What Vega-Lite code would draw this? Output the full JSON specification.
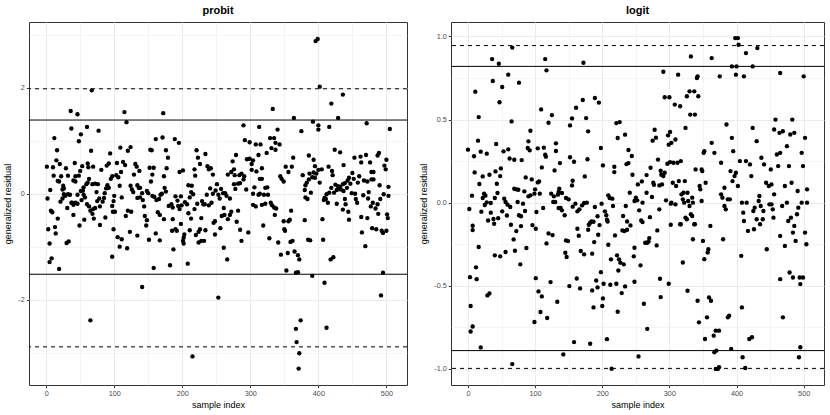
{
"$schema":"https://vega.github.io/schema/vega-lite/v6.json",
"padding":{"left":3,"top":4,"right":4,"bottom":2},
"config":{
 "font":"Liberation Sans",
 "view":{"stroke":"#333333","strokeWidth":1},
 "axis":{"labelFont":"Liberation Sans","labelFontSize":7.3,"labelColor":"#4D4D4D","titleFont":"Liberation Sans","titleFontSize":9,"titleFontWeight":"normal","titleColor":"#000000","tickColor":"#333333","tickSize":2.7,"labelPadding":2,"domain":false,"gridColor":"#EBEBEB"},
 "title":{"font":"Liberation Sans","fontSize":11,"fontWeight":"bold","color":"#000000","anchor":"middle","frame":"group","offset":6},
 "concat":{"spacing":11}
},
"datasets":{
"probit":[
{"i":1,"r":0.51},{"i":10,"r":0.5},{"i":15,"r":0.63},{"i":20,"r":0.56},{"i":29,"r":0.48},{"i":42,"r":0.58},{"i":53,"r":0.52},{"i":61,"r":0.57},{"i":62,"r":0.5},{"i":69,"r":0.51},{"i":81,"r":0.45},{"i":89,"r":0.53},{"i":92,"r":0.57},{"i":11,"r":0.34},{"i":22,"r":0.33},{"i":32,"r":0.34},{"i":17,"r":0.24},{"i":19,"r":0.23},{"i":25,"r":0.15},{"i":26,"r":0.1},{"i":24,"r":0.08},{"i":6,"r":0.07},{"i":2,"r":-0.09},{"i":7,"r":-0.32},{"i":9,"r":-0.35},{"i":17,"r":-0.47},{"i":3,"r":-0.67},{"i":13,"r":-0.63},{"i":14,"r":-0.75},{"i":5,"r":-0.94},{"i":5,"r":-1.29},{"i":8,"r":-1.22},{"i":19,"r":-1.42},{"i":30,"r":-0.93},{"i":33,"r":-0.9},{"i":40,"r":0.25},{"i":43,"r":0.33},{"i":48,"r":0.34},{"i":50,"r":0.43},{"i":26,"r":-0.01},{"i":28,"r":-0.04},{"i":32,"r":-0.01},{"i":35,"r":-0.02},{"i":21,"r":-0.15},{"i":24,"r":-0.09},{"i":38,"r":-0.17},{"i":40,"r":-0.21},{"i":43,"r":-0.17},{"i":46,"r":-0.19},{"i":40,"r":-0.4},{"i":31,"r":-0.27},{"i":49,"r":-0.6},{"i":56,"r":-0.49},{"i":52,"r":-0.12},{"i":55,"r":-0.02},{"i":57,"r":-0.07},{"i":60,"r":-0.2},{"i":63,"r":-0.24},{"i":65,"r":-0.32},{"i":68,"r":-0.38},{"i":69,"r":-0.29},{"i":72,"r":-0.27},{"i":75,"r":-0.14},{"i":78,"r":-0.09},{"i":79,"r":-0.24},{"i":83,"r":-0.15},{"i":85,"r":-0.08},{"i":86,"r":0.01},{"i":88,"r":0.1},{"i":90,"r":0.16},{"i":92,"r":0.11},{"i":95,"r":0.28},{"i":97,"r":-0.23},{"i":98,"r":-0.34},{"i":65,"r":-2.39},{"i":68,"r":0.18},{"i":72,"r":0.19},{"i":76,"r":0.18},{"i":74,"r":0.03},{"i":79,"r":-0.59},{"i":87,"r":-0.45},{"i":70,"r":-0.47},{"i":55,"r":0.12},{"i":59,"r":0.18},{"i":61,"r":0.21},{"i":63,"r":0.28},{"i":54,"r":0.06},{"i":51,"r":0.05},{"i":43,"r":0.23},{"i":37,"r":-0.17},{"i":46,"r":-0.02},{"i":100,"r":-0.04},
{"i":67,"r":1.95},{"i":36,"r":1.56},{"i":46,"r":1.5},{"i":37,"r":1.23},{"i":60,"r":1.26},{"i":77,"r":1.19},{"i":51,"r":1.12},{"i":48,"r":0.99},{"i":12,"r":1.05},{"i":16,"r":0.82},{"i":66,"r":0.81},{"i":94,"r":0.76},
{"i":115,"r":1.54},{"i":118,"r":1.35},{"i":172,"r":1.52},{"i":161,"r":1.03},{"i":171,"r":1.06},{"i":189,"r":1.03},{"i":195,"r":0.96},{"i":109,"r":0.87},{"i":120,"r":0.81},{"i":124,"r":0.88},{"i":153,"r":0.83},{"i":155,"r":0.82},{"i":176,"r":0.82},{"i":179,"r":0.68},{"i":104,"r":0.58},{"i":113,"r":0.6},{"i":116,"r":0.54},{"i":131,"r":0.56},{"i":133,"r":0.51},{"i":137,"r":0.43},{"i":152,"r":0.49},{"i":158,"r":0.49},{"i":177,"r":0.48},{"i":97,"r":0.33},{"i":103,"r":0.35},{"i":106,"r":0.31},{"i":110,"r":0.41},{"i":129,"r":0.36},{"i":156,"r":0.36},{"i":173,"r":0.33},{"i":196,"r":0.41},{"i":201,"r":0.44},{"i":108,"r":0.15},{"i":124,"r":0.15},{"i":126,"r":0.08},{"i":128,"r":0.03},{"i":134,"r":0.16},{"i":136,"r":0.11},{"i":138,"r":0.11},{"i":141,"r":0.01},{"i":148,"r":0.05},{"i":150,"r":0.01},{"i":154,"r":0.23},{"i":156,"r":-0.04},{"i":159,"r":-0.06},{"i":162,"r":-0.12},{"i":166,"r":-0.1},{"i":168,"r":-0.02},{"i":170,"r":0.0},{"i":174,"r":0.11},{"i":176,"r":0.04},{"i":99,"r":-0.14},{"i":101,"r":-0.34},{"i":111,"r":-0.07},{"i":120,"r":-0.32},{"i":125,"r":-0.34},{"i":117,"r":-0.42},{"i":134,"r":-0.08},{"i":138,"r":-0.07},{"i":142,"r":-0.12},{"i":144,"r":-0.24},{"i":145,"r":-0.42},{"i":148,"r":-0.5},{"i":147,"r":-0.6},{"i":123,"r":-0.72},{"i":134,"r":-0.79},{"i":99,"r":-0.67},{"i":105,"r":-0.82},{"i":111,"r":-0.86},{"i":108,"r":-1.0},{"i":119,"r":-1.03},{"i":97,"r":-1.19},{"i":161,"r":-0.75},{"i":167,"r":-0.88},{"i":151,"r":-0.87},{"i":164,"r":-0.35},{"i":167,"r":-0.4},{"i":173,"r":-0.48},{"i":180,"r":-0.23},{"i":184,"r":-0.2},{"i":186,"r":-0.26},{"i":190,"r":-0.05},{"i":193,"r":-0.13},{"i":194,"r":-0.23},{"i":196,"r":-0.29},{"i":199,"r":-0.22},{"i":186,"r":-0.48},{"i":190,"r":-0.67},{"i":192,"r":-0.7},{"i":198,"r":-0.57},{"i":202,"r":-0.83},{"i":201,"r":-0.89},{"i":202,"r":-0.94},{"i":185,"r":-0.7},{"i":187,"r":-1.05},{"i":158,"r":-1.4},{"i":182,"r":-1.35},{"i":141,"r":-1.76},{"i":198,"r":-0.05},
{"i":290,"r":1.29},{"i":292,"r":1.01},{"i":221,"r":0.82},{"i":223,"r":0.68},{"i":234,"r":0.75},{"i":218,"r":0.46},{"i":219,"r":0.34},{"i":226,"r":0.56},{"i":237,"r":0.52},{"i":239,"r":0.46},{"i":242,"r":0.48},{"i":245,"r":0.36},{"i":274,"r":0.61},{"i":279,"r":0.73},{"i":276,"r":0.46},{"i":295,"r":0.65},{"i":267,"r":0.36},{"i":272,"r":0.41},{"i":277,"r":0.35},{"i":284,"r":0.35},{"i":287,"r":0.38},{"i":291,"r":0.33},{"i":209,"r":0.16},{"i":214,"r":0.15},{"i":216,"r":-0.01},{"i":213,"r":0.03},{"i":229,"r":-0.14},{"i":231,"r":-0.2},{"i":236,"r":-0.02},{"i":239,"r":-0.22},{"i":243,"r":-0.17},{"i":241,"r":0.1},{"i":245,"r":0.0},{"i":249,"r":0.06},{"i":251,"r":0.18},{"i":253,"r":-0.02},{"i":255,"r":-0.09},{"i":257,"r":0.09},{"i":260,"r":0.01},{"i":263,"r":0.01},{"i":265,"r":-0.04},{"i":270,"r":-0.09},{"i":276,"r":0.18},{"i":278,"r":0.09},{"i":282,"r":0.19},{"i":285,"r":0.2},{"i":290,"r":0.27},{"i":294,"r":0.08},{"i":204,"r":-0.16},{"i":207,"r":-0.2},{"i":209,"r":-0.37},{"i":211,"r":-0.07},{"i":218,"r":-0.29},{"i":222,"r":-0.19},{"i":233,"r":-0.2},{"i":203,"r":-0.77},{"i":211,"r":-0.69},{"i":213,"r":-0.47},{"i":220,"r":-0.78},{"i":224,"r":-0.72},{"i":226,"r":-0.67},{"i":224,"r":-0.92},{"i":228,"r":-0.89},{"i":232,"r":-0.89},{"i":234,"r":-0.69},{"i":228,"r":-0.46},{"i":246,"r":-0.55},{"i":248,"r":-0.52},{"i":248,"r":-0.77},{"i":256,"r":-0.65},{"i":258,"r":-0.42},{"i":261,"r":-0.27},{"i":262,"r":-0.4},{"i":267,"r":-0.48},{"i":270,"r":-0.4},{"i":272,"r":-0.34},{"i":282,"r":-0.32},{"i":280,"r":-0.53},{"i":285,"r":-0.68},{"i":287,"r":-0.89},{"i":261,"r":-1.02},{"i":266,"r":-1.24},{"i":208,"r":-1.32},{"i":253,"r":-1.96},{"i":215,"r":-3.07},{"i":297,"r":-0.73},
{"i":399,"r":2.92},{"i":396,"r":2.88},{"i":402,"r":2.02},{"i":333,"r":1.6},{"i":364,"r":1.43},{"i":392,"r":1.36},{"i":400,"r":1.29},{"i":400,"r":1.21},{"i":375,"r":1.18},{"i":313,"r":1.26},{"i":340,"r":1.21},{"i":329,"r":1.05},{"i":335,"r":1.05},{"i":337,"r":0.96},{"i":343,"r":0.93},{"i":331,"r":0.86},{"i":337,"r":0.83},{"i":299,"r":0.97},{"i":308,"r":0.93},{"i":315,"r":0.93},{"i":324,"r":0.77},{"i":312,"r":0.73},{"i":299,"r":0.66},{"i":304,"r":0.63},{"i":302,"r":0.56},{"i":317,"r":0.48},{"i":302,"r":0.45},{"i":309,"r":0.42},{"i":314,"r":0.28},{"i":317,"r":0.28},{"i":306,"r":0.12},{"i":304,"r":0.0},{"i":312,"r":-0.02},{"i":320,"r":-0.02},{"i":326,"r":-0.02},{"i":322,"r":0.11},{"i":325,"r":0.12},{"i":314,"r":0.0},{"i":304,"r":-0.21},{"i":308,"r":-0.24},{"i":317,"r":-0.21},{"i":322,"r":-0.19},{"i":330,"r":-0.17},{"i":332,"r":-0.22},{"i":335,"r":-0.26},{"i":338,"r":-0.28},{"i":336,"r":-0.4},{"i":319,"r":-0.6},{"i":328,"r":-0.84},{"i":341,"r":-0.92},{"i":345,"r":-1.15},{"i":349,"r":-0.52},{"i":350,"r":-0.67},{"i":351,"r":-0.7},{"i":356,"r":-0.52},{"i":358,"r":-0.49},{"i":360,"r":-0.32},{"i":344,"r":0.33},{"i":346,"r":0.28},{"i":349,"r":0.23},{"i":352,"r":0.51},{"i":356,"r":0.41},{"i":361,"r":0.51},{"i":359,"r":-0.91},{"i":362,"r":-0.89},{"i":355,"r":-1.12},{"i":365,"r":-1.09},{"i":370,"r":-1.16},{"i":372,"r":-1.24},{"i":353,"r":-1.45},{"i":367,"r":-1.49},{"i":370,"r":-1.48},{"i":391,"r":-1.55},{"i":363,"r":0.68},{"i":377,"r":0.35},{"i":381,"r":0.16},{"i":383,"r":0.21},{"i":386,"r":0.27},{"i":380,"r":0.07},{"i":381,"r":-0.07},{"i":384,"r":-0.1},{"i":389,"r":0.02},{"i":380,"r":-0.5},{"i":386,"r":0.72},{"i":393,"r":0.64},{"i":395,"r":0.52},{"i":393,"r":0.4},{"i":397,"r":0.38},{"i":387,"r":0.38},{"i":391,"r":0.31},{"i":395,"r":0.3},{"i":400,"r":0.45},{"i":402,"r":0.21},{"i":385,"r":-0.87},{"i":388,"r":-0.88},{"i":374,"r":-2.39},{"i":367,"r":-2.55},{"i":368,"r":-2.8},{"i":372,"r":-3.01},{"i":371,"r":-3.3},
{"i":436,"r":1.87},{"i":419,"r":1.7},{"i":429,"r":1.43},{"i":471,"r":1.33},{"i":505,"r":1.22},{"i":416,"r":1.26},{"i":424,"r":0.83},{"i":432,"r":0.78},{"i":405,"r":0.46},{"i":415,"r":0.51},{"i":420,"r":0.43},{"i":421,"r":0.35},{"i":437,"r":0.54},{"i":453,"r":0.68},{"i":462,"r":0.7},{"i":463,"r":0.59},{"i":470,"r":0.73},{"i":476,"r":0.59},{"i":487,"r":0.72},{"i":489,"r":0.77},{"i":497,"r":0.53},{"i":499,"r":0.46},{"i":500,"r":0.64},{"i":478,"r":0.41},{"i":481,"r":0.41},{"i":419,"r":0.11},{"i":425,"r":0.17},{"i":429,"r":0.14},{"i":432,"r":0.13},{"i":436,"r":0.18},{"i":439,"r":0.2},{"i":443,"r":0.25},{"i":445,"r":0.3},{"i":450,"r":0.39},{"i":447,"r":0.19},{"i":452,"r":0.28},{"i":458,"r":0.21},{"i":460,"r":0.33},{"i":467,"r":0.25},{"i":472,"r":0.23},{"i":478,"r":0.27},{"i":481,"r":0.27},{"i":490,"r":0.16},{"i":503,"r":0.13},{"i":409,"r":-0.08},{"i":412,"r":-0.01},{"i":416,"r":0.02},{"i":423,"r":0.02},{"i":427,"r":0.07},{"i":430,"r":0.1},{"i":433,"r":0.08},{"i":437,"r":0.05},{"i":442,"r":0.11},{"i":408,"r":-0.12},{"i":411,"r":-0.1},{"i":414,"r":-0.17},{"i":427,"r":-0.19},{"i":436,"r":-0.3},{"i":439,"r":-0.1},{"i":440,"r":-0.2},{"i":444,"r":-0.34},{"i":445,"r":-0.49},{"i":449,"r":0.01},{"i":454,"r":0.0},{"i":455,"r":-0.1},{"i":457,"r":-0.17},{"i":466,"r":-0.03},{"i":474,"r":0.03},{"i":473,"r":-0.09},{"i":477,"r":-0.24},{"i":480,"r":-0.17},{"i":484,"r":-0.28},{"i":487,"r":-0.2},{"i":491,"r":-0.1},{"i":496,"r":-0.01},{"i":503,"r":-0.04},{"i":463,"r":-0.44},{"i":472,"r":-0.46},{"i":479,"r":-0.65},{"i":485,"r":-0.67},{"i":493,"r":-0.7},{"i":495,"r":-0.74},{"i":500,"r":-0.7},{"i":501,"r":-0.39},{"i":502,"r":-0.46},{"i":488,"r":-0.38},{"i":406,"r":-0.48},{"i":407,"r":-0.87},{"i":418,"r":-1.24},{"i":422,"r":-1.2},{"i":464,"r":-0.73},{"i":469,"r":-0.99},{"i":495,"r":-1.49},{"i":492,"r":-1.92},{"i":409,"r":-1.68},{"i":412,"r":-2.53}
],
"logit":[
{"i":66,"r":0.933},{"i":36,"r":0.864},{"i":46,"r":0.836},{"i":37,"r":0.732},{"i":51,"r":0.696},{"i":60,"r":0.77},{"i":76,"r":0.722},{"i":47,"r":0.604},{"i":11,"r":0.668},{"i":16,"r":0.515},{"i":65,"r":0.489},{"i":93,"r":0.433},{"i":90,"r":0.369},{"i":92,"r":0.315},{"i":89,"r":0.329},{"i":0,"r":0.319},{"i":9,"r":0.279},{"i":15,"r":0.373},{"i":19,"r":0.307},{"i":28,"r":0.295},{"i":42,"r":0.353},{"i":53,"r":0.309},{"i":60,"r":0.321},{"i":62,"r":0.266},{"i":69,"r":0.258},{"i":80,"r":0.256},{"i":10,"r":0.182},{"i":17,"r":0.112},{"i":22,"r":0.158},{"i":32,"r":0.168},{"i":41,"r":0.188},{"i":49,"r":0.206},{"i":48,"r":0.16},{"i":43,"r":0.114},{"i":44,"r":0.058},{"i":6,"r":0.042},{"i":22,"r":0.028},{"i":24,"r":0.054},{"i":26,"r":0.042},{"i":25,"r":-0.014},{"i":28,"r":0.002},{"i":34,"r":-0.002},{"i":40,"r":0.028},{"i":54,"r":0.024},{"i":56,"r":0.004},{"i":59,"r":-0.012},{"i":63,"r":-0.026},{"i":69,"r":0.084},{"i":72,"r":0.08},{"i":75,"r":0.078},{"i":74,"r":0.004},{"i":82,"r":-0.006},{"i":76,"r":-0.076},{"i":84,"r":0.068},{"i":86,"r":0.152},{"i":90,"r":0.038},{"i":93,"r":0.044},{"i":95,"r":0.14},{"i":99,"r":0.054},{"i":100,"r":0.08},{"i":2,"r":-0.038},{"i":7,"r":-0.139},{"i":7,"r":-0.165},{"i":20,"r":-0.054},{"i":30,"r":-0.107},{"i":34,"r":-0.06},{"i":38,"r":-0.098},{"i":39,"r":-0.127},{"i":45,"r":-0.093},{"i":51,"r":-0.052},{"i":58,"r":-0.077},{"i":64,"r":-0.133},{"i":72,"r":-0.171},{"i":79,"r":-0.141},{"i":79,"r":-0.082},{"i":85,"r":-0.05},{"i":96,"r":-0.135},{"i":16,"r":-0.267},{"i":68,"r":-0.221},{"i":87,"r":-0.273},{"i":70,"r":-0.289},{"i":78,"r":-0.371},{"i":40,"r":-0.317},{"i":48,"r":-0.323},{"i":56,"r":-0.297},{"i":3,"r":-0.448},{"i":13,"r":-0.46},{"i":12,"r":-0.389},{"i":29,"r":-0.558},{"i":32,"r":-0.546},{"i":4,"r":-0.622},{"i":4,"r":-0.775},{"i":7,"r":-0.745},{"i":19,"r":-0.871},{"i":66,"r":-0.971},
{"i":115,"r":0.864},{"i":117,"r":0.796},{"i":172,"r":0.842},{"i":109,"r":0.561},{"i":120,"r":0.481},{"i":125,"r":0.527},{"i":152,"r":0.465},{"i":155,"r":0.507},{"i":161,"r":0.571},{"i":171,"r":0.618},{"i":176,"r":0.509},{"i":179,"r":0.429},{"i":189,"r":0.63},{"i":195,"r":0.602},{"i":104,"r":0.327},{"i":113,"r":0.331},{"i":115,"r":0.289},{"i":116,"r":0.277},{"i":131,"r":0.357},{"i":131,"r":0.311},{"i":110,"r":0.212},{"i":129,"r":0.194},{"i":137,"r":0.238},{"i":152,"r":0.273},{"i":158,"r":0.246},{"i":178,"r":0.261},{"i":198,"r":0.329},{"i":201,"r":0.224},{"i":174,"r":0.158},{"i":104,"r":0.122},{"i":106,"r":0.128},{"i":107,"r":0.054},{"i":124,"r":0.054},{"i":128,"r":0.038},{"i":136,"r":0.084},{"i":135,"r":0.064},{"i":134,"r":0.048},{"i":140,"r":0.058},{"i":146,"r":0.028},{"i":150,"r":0.02},{"i":155,"r":0.104},{"i":156,"r":0.132},{"i":102,"r":-0.056},{"i":112,"r":-0.032},{"i":127,"r":0.004},{"i":130,"r":0.004},{"i":135,"r":-0.032},{"i":138,"r":-0.032},{"i":140,"r":-0.046},{"i":144,"r":-0.076},{"i":156,"r":-0.024},{"i":160,"r":-0.006},{"i":163,"r":-0.052},{"i":166,"r":-0.04},{"i":170,"r":-0.016},{"i":173,"r":-0.002},{"i":177,"r":0.0},{"i":189,"r":-0.026},{"i":193,"r":-0.082},{"i":199,"r":-0.006},{"i":101,"r":-0.157},{"i":120,"r":-0.185},{"i":126,"r":-0.195},{"i":117,"r":-0.245},{"i":146,"r":-0.227},{"i":149,"r":-0.231},{"i":145,"r":-0.301},{"i":147,"r":-0.327},{"i":163,"r":-0.157},{"i":165,"r":-0.199},{"i":180,"r":-0.133},{"i":182,"r":-0.121},{"i":184,"r":-0.113},{"i":187,"r":-0.115},{"i":179,"r":-0.163},{"i":194,"r":-0.193},{"i":196,"r":-0.135},{"i":188,"r":-0.237},{"i":168,"r":-0.291},{"i":173,"r":-0.311},{"i":185,"r":-0.307},{"i":101,"r":-0.454},{"i":105,"r":-0.534},{"i":110,"r":-0.564},{"i":123,"r":-0.478},{"i":133,"r":-0.596},{"i":151,"r":-0.502},{"i":162,"r":-0.456},{"i":167,"r":-0.516},{"i":185,"r":-0.528},{"i":191,"r":-0.468},{"i":193,"r":-0.51},{"i":198,"r":-0.418},{"i":201,"r":-0.576},{"i":200,"r":-0.622},{"i":187,"r":-0.63},{"i":99,"r":-0.718},{"i":108,"r":-0.658},{"i":118,"r":-0.694},{"i":158,"r":-0.839},{"i":182,"r":-0.849},{"i":142,"r":-0.913},
{"i":291,"r":0.788},{"i":293,"r":0.634},{"i":300,"r":0.634},{"i":221,"r":0.479},{"i":226,"r":0.485},{"i":223,"r":0.389},{"i":234,"r":0.409},{"i":278,"r":0.439},{"i":280,"r":0.391},{"i":275,"r":0.373},{"i":298,"r":0.405},{"i":301,"r":0.425},{"i":299,"r":0.349},{"i":239,"r":0.317},{"i":244,"r":0.281},{"i":236,"r":0.232},{"i":239,"r":0.238},{"i":218,"r":0.216},{"i":218,"r":0.184},{"i":245,"r":0.168},{"i":253,"r":0.11},{"i":259,"r":0.128},{"i":266,"r":0.166},{"i":272,"r":0.21},{"i":276,"r":0.12},{"i":277,"r":0.108},{"i":283,"r":0.259},{"i":287,"r":0.192},{"i":288,"r":0.168},{"i":291,"r":0.16},{"i":293,"r":0.18},{"i":285,"r":0.104},{"i":289,"r":0.11},{"i":297,"r":0.234},{"i":301,"r":0.244},{"i":209,"r":0.044},{"i":211,"r":0.028},{"i":215,"r":0.024},{"i":216,"r":-0.02},{"i":235,"r":-0.02},{"i":241,"r":0.06},{"i":250,"r":0.03},{"i":248,"r":0.01},{"i":252,"r":0.014},{"i":255,"r":-0.046},{"i":260,"r":0.0},{"i":266,"r":0.06},{"i":274,"r":0.034},{"i":295,"r":0.014},{"i":302,"r":-0.006},{"i":285,"r":-0.04},{"i":271,"r":-0.087},{"i":204,"r":-0.052},{"i":206,"r":-0.076},{"i":207,"r":-0.103},{"i":208,"r":-0.113},{"i":231,"r":-0.08},{"i":237,"r":-0.113},{"i":230,"r":-0.167},{"i":233,"r":-0.171},{"i":237,"r":-0.163},{"i":242,"r":-0.137},{"i":258,"r":-0.107},{"i":260,"r":-0.117},{"i":219,"r":-0.197},{"i":270,"r":-0.213},{"i":269,"r":-0.233},{"i":264,"r":-0.241},{"i":267,"r":-0.241},{"i":282,"r":-0.167},{"i":302,"r":-0.133},{"i":209,"r":-0.253},{"i":213,"r":-0.341},{"i":222,"r":-0.317},{"i":225,"r":-0.341},{"i":227,"r":-0.361},{"i":232,"r":-0.371},{"i":224,"r":-0.408},{"i":229,"r":-0.544},{"i":234,"r":-0.504},{"i":247,"r":-0.323},{"i":248,"r":-0.271},{"i":257,"r":-0.377},{"i":281,"r":-0.257},{"i":202,"r":-0.488},{"i":212,"r":-0.494},{"i":221,"r":-0.488},{"i":248,"r":-0.476},{"i":223,"r":-0.656},{"i":286,"r":-0.458},{"i":287,"r":-0.568},{"i":262,"r":-0.608},{"i":299,"r":-0.488},{"i":207,"r":-0.821},{"i":267,"r":-0.759},{"i":254,"r":-0.925},{"i":214,"r":-0.999},
{"i":303,"r":0.36},{"i":305,"r":0.12},{"i":306,"r":0.24},{"i":308,"r":0.59},{"i":309,"r":0.38},{"i":310,"r":0.1},{"i":312,"r":0.24},{"i":313,"r":0.77},{"i":314,"r":0.13},{"i":316,"r":0.58},{"i":317,"r":0.25},{"i":318,"r":0.05},{"i":320,"r":0.02},{"i":321,"r":0.06},{"i":323,"r":0.13},{"i":324,"r":0.45},{"i":326,"r":0.64},{"i":327,"r":0.06},{"i":328,"r":0.01},{"i":330,"r":0.67},{"i":331,"r":0.53},{"i":332,"r":0.88},{"i":334,"r":0.03},{"i":335,"r":0.0},{"i":337,"r":0.67},{"i":338,"r":0.53},{"i":339,"r":0.2},{"i":341,"r":0.75},{"i":342,"r":0.76},{"i":343,"r":0.64},{"i":345,"r":0.1},{"i":346,"r":0.08},{"i":348,"r":0.2},{"i":349,"r":0.19},{"i":351,"r":0.3},{"i":352,"r":0.31},{"i":354,"r":0.12},{"i":363,"r":0.36},{"i":367,"r":0.3},{"i":363,"r":0.87},{"i":375,"r":0.76},{"i":377,"r":0.24},{"i":377,"r":0.05},{"i":379,"r":0.03},{"i":382,"r":0.09},{"i":385,"r":0.47},{"i":387,"r":0.02},{"i":391,"r":0.19},{"i":393,"r":0.39},{"i":394,"r":0.13},{"i":395,"r":0.31},{"i":397,"r":0.16},{"i":399,"r":0.18},{"i":402,"r":0.1},{"i":405,"r":0.25},{"i":408,"r":0.0},{"i":414,"r":0.25},{"i":420,"r":0.23},{"i":422,"r":0.16},{"i":424,"r":0.45},{"i":430,"r":0.37},{"i":434,"r":0.04},{"i":437,"r":0.27},{"i":441,"r":0.23},{"i":444,"r":0.12},{"i":448,"r":0.1},{"i":451,"r":0.2},{"i":452,"r":0.11},{"i":456,"r":0.05},{"i":460,"r":0.29},{"i":462,"r":0.22},{"i":465,"r":0.3},{"i":469,"r":0.43},{"i":472,"r":0.1},{"i":475,"r":0.34},{"i":478,"r":0.22},{"i":482,"r":0.12},{"i":486,"r":0.42},{"i":491,"r":0.07},{"i":497,"r":0.3},{"i":499,"r":0.22},{"i":502,"r":0.39},{"i":505,"r":0.08},{"i":398,"r":0.99},{"i":402,"r":0.99},{"i":403,"r":0.95},{"i":393,"r":0.82},{"i":400,"r":0.82},{"i":399,"r":0.77},{"i":414,"r":0.9},{"i":411,"r":0.76},{"i":424,"r":0.82},{"i":431,"r":0.93},{"i":465,"r":0.78},{"i":500,"r":0.76},{"i":458,"r":0.5},{"i":483,"r":0.5},{"i":480,"r":0.41},{"i":464,"r":0.42},{"i":456,"r":0.44},
{"i":303,"r":0.0},{"i":309,"r":-0.01},{"i":316,"r":-0.13},{"i":317,"r":-0.13},{"i":320,"r":-0.36},{"i":322,"r":0.0},{"i":324,"r":-0.09},{"i":326,"r":-0.1},{"i":327,"r":-0.53},{"i":330,"r":-0.02},{"i":332,"r":-0.07},{"i":334,"r":-0.08},{"i":335,"r":-0.22},{"i":337,"r":-0.13},{"i":338,"r":-0.13},{"i":342,"r":-0.59},{"i":344,"r":-0.72},{"i":348,"r":0.01},{"i":350,"r":-0.23},{"i":352,"r":-0.34},{"i":353,"r":-0.82},{"i":356,"r":-0.69},{"i":357,"r":-0.3},{"i":358,"r":-0.28},{"i":359,"r":-0.57},{"i":361,"r":-0.14},{"i":362,"r":-0.59},{"i":366,"r":-0.8},{"i":367,"r":-0.9},{"i":370,"r":-0.89},{"i":369,"r":-1.0},{"i":372,"r":-1.0},{"i":374,"r":-0.99},{"i":369,"r":-0.77},{"i":374,"r":-0.77},{"i":380,"r":-0.22},{"i":382,"r":-0.02},{"i":384,"r":-0.04},{"i":387,"r":-0.69},{"i":389,"r":-0.68},{"i":392,"r":-0.88},{"i":390,"r":0.02},{"i":407,"r":-0.32},{"i":408,"r":-0.63},{"i":409,"r":-0.93},{"i":413,"r":-0.995},{"i":410,"r":-0.06},{"i":411,"r":-0.11},{"i":415,"r":0.0},{"i":417,"r":-0.17},{"i":419,"r":-0.82},{"i":423,"r":-0.81},{"i":425,"r":-0.05},{"i":426,"r":-0.16},{"i":427,"r":-0.03},{"i":430,"r":-0.1},{"i":433,"r":0.01},{"i":435,"r":-0.13},{"i":436,"r":-0.02},{"i":439,"r":-0.1},{"i":440,"r":-0.05},{"i":445,"r":-0.28},{"i":449,"r":-0.01},{"i":452,"r":-0.01},{"i":454,"r":-0.04},{"i":455,"r":-0.09},{"i":465,"r":-0.46},{"i":465,"r":-0.2},{"i":468,"r":-0.02},{"i":469,"r":-0.69},{"i":472,"r":-0.26},{"i":475,"r":0.0},{"i":477,"r":-0.11},{"i":479,"r":-0.42},{"i":481,"r":-0.09},{"i":484,"r":-0.18},{"i":484,"r":-0.45},{"i":486,"r":-0.14},{"i":488,"r":-0.23},{"i":490,"r":-0.07},{"i":492,"r":-0.03},{"i":493,"r":-0.93},{"i":495,"r":-0.87},{"i":495,"r":-0.49},{"i":494,"r":-0.45},{"i":499,"r":-0.45},{"i":502,"r":-0.18},{"i":504,"r":-0.25},{"i":505,"r":0.0},{"i":497,"r":0.0}
]
},
"hconcat":[
{
 "title":"probit",
 "width":378,"height":363,
 "layer":[
  {"data":{"name":"probit"},"mark":{"type":"circle","color":"#000000","opacity":1,"size":19},
   "encoding":{
    "x":{"field":"i","type":"quantitative","title":"sample index","scale":{"domain":[-25.25,530.25],"nice":false,"zero":false},
      "axis":{"values":[0,50,100,150,200,250,300,350,400,450,500],"format":"d","labelExpr":"datum.value % 100 === 0 ? datum.label : ''","gridWidth":{"condition":{"test":"datum.value % 100 === 0","value":1},"value":0.5},"tickOpacity":{"condition":{"test":"datum.value % 100 === 0","value":1},"value":0},"titlePadding":3}},
    "y":{"field":"r","type":"quantitative","title":"generalized residual","scale":{"domain":[-3.61,3.24],"nice":false,"zero":false},
      "axis":{"values":[-3,-2,-1,0,1,2,3],"format":"d","labelExpr":"datum.value % 2 === 0 ? replace(datum.label, '−', '-') : ''","gridWidth":{"condition":{"test":"datum.value % 2 === 0","value":1},"value":0.5},"tickOpacity":{"condition":{"test":"datum.value % 2 === 0","value":1},"value":0},"titlePadding":5}}
   }},
  {"data":{"values":[{"y":1.39},{"y":-1.52}]},"mark":{"type":"rule","color":"#000000","strokeWidth":1},"encoding":{"y":{"field":"y","type":"quantitative"}}},
  {"data":{"values":[{"y":1.98},{"y":-2.89}]},"mark":{"type":"rule","color":"#000000","strokeWidth":1,"strokeDash":[4,4]},"encoding":{"y":{"field":"y","type":"quantitative"}}}
 ]
},
{
 "title":"logit",
 "width":373,"height":363,
 "layer":[
  {"data":{"name":"logit"},"mark":{"type":"circle","color":"#000000","opacity":1,"size":19},
   "encoding":{
    "x":{"field":"i","type":"quantitative","title":"sample index","scale":{"domain":[-25.25,530.25],"nice":false,"zero":false},
      "axis":{"values":[0,50,100,150,200,250,300,350,400,450,500],"format":"d","labelExpr":"datum.value % 100 === 0 ? datum.label : ''","gridWidth":{"condition":{"test":"datum.value % 100 === 0","value":1},"value":0.5},"tickOpacity":{"condition":{"test":"datum.value % 100 === 0","value":1},"value":0},"titlePadding":3}},
    "y":{"field":"r","type":"quantitative","title":"generalized residual","scale":{"domain":[-1.097,1.087],"nice":false,"zero":false},
      "axis":{"values":[-1,-0.75,-0.5,-0.25,0,0.25,0.5,0.75,1],"format":".1f","labelExpr":"abs(datum.value*2 - round(datum.value*2)) < 0.001 ? replace(datum.label, '−', '-') : ''","gridWidth":{"condition":{"test":"abs(datum.value*2 - round(datum.value*2)) < 0.001","value":1},"value":0.5},"tickOpacity":{"condition":{"test":"abs(datum.value*2 - round(datum.value*2)) < 0.001","value":1},"value":0},"titlePadding":5}}
   }},
  {"data":{"values":[{"y":0.82},{"y":-0.89}]},"mark":{"type":"rule","color":"#000000","strokeWidth":1},"encoding":{"y":{"field":"y","type":"quantitative"}}},
  {"data":{"values":[{"y":0.945},{"y":-0.997}]},"mark":{"type":"rule","color":"#000000","strokeWidth":1,"strokeDash":[4,4]},"encoding":{"y":{"field":"y","type":"quantitative"}}}
 ]
}
],
"resolve":{"scale":{"x":"independent","y":"independent"}}
}
